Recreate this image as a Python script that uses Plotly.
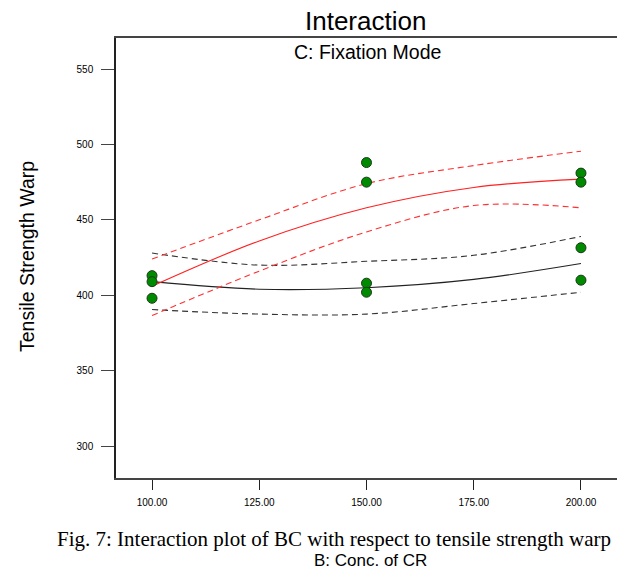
import plotly.graph_objects as go

# Data
b_levels = [100, 125, 150, 175, 200]
red_mean = [406.0, 436.0, 458.0, 471.5, 477.0]
red_upper = [424.0, 450.0, 474.0, 486.0, 495.5]
red_lower = [386.5, 416.0, 442.0, 459.5, 458.0]
black_mean = [409.0, 404.0, 405.0, 410.5, 421.0]
black_upper = [428.0, 420.0, 422.5, 426.5, 439.0]
black_lower = [390.5, 387.5, 387.5, 394.5, 402.0]

pts_b = [100, 100, 100, 150, 150, 150, 150, 200, 200, 200, 200]
pts_y = [413, 409, 398, 488, 475, 408, 402, 481, 475, 431.5, 410]

x_ticks = [100, 125, 150, 175, 200]
x_tick_labels = ["100.00", "125.00", "150.00", "175.00", "200.00"]
y_ticks = [300, 350, 400, 450, 500, 550]
y_tick_labels = ["300", "350", "400", "450", "500", "550"]

fig = go.Figure()

def add_line(y, color, dash, width=1.1):
    fig.add_trace(go.Scatter(x=b_levels, y=y, mode="lines",
                             line=dict(color=color, dash=dash, width=width, shape="spline"),
                             showlegend=False, hoverinfo="skip"))

add_line(black_upper, "#333333", "6px,4px")
add_line(black_lower, "#333333", "6px,4px")
add_line(black_mean, "#222222", "solid")
add_line(red_upper, "#ff3030", "6px,4px")
add_line(red_lower, "#ff3030", "6px,4px")
add_line(red_mean, "#ff2020", "solid")

fig.add_trace(go.Scatter(x=pts_b, y=pts_y, mode="markers",
                         marker=dict(color="#008a00", size=10,
                                     line=dict(color="#1a3a1a", width=1)),
                         showlegend=False))

fig.update_layout(
    width=617, height=569,
    margin=dict(l=116, r=0, t=38, b=91),
    paper_bgcolor="white", plot_bgcolor="white",
    font=dict(family="Liberation Sans, Arial, sans-serif", color="black"),
    xaxis=dict(range=[91.6, 208.4], tickvals=x_ticks, ticktext=x_tick_labels,
               ticks="outside", ticklen=10, tickcolor="#222", showgrid=False,
               zeroline=False, showline=True, linecolor="#444", linewidth=1.5,
               mirror=True, tickfont=dict(size=10), ticklabelstandoff=4),
    yaxis=dict(range=[278.8, 570.6], tickvals=y_ticks, ticktext=y_tick_labels,
               ticks="outside", ticklen=13, tickcolor="#444", showgrid=False,
               zeroline=False, showline=True, linecolor="#222", linewidth=1.5,
               tickfont=dict(size=10), ticklabelstandoff=6),
    annotations=[
        dict(text="Interaction", x=365, y=21, showarrow=False, font=dict(size=26)),
        dict(text="C: Fixation Mode", x=367, y=52, showarrow=False, font=dict(size=19.5)),
        dict(text="Tensile Strength Warp", x=27, y=257, showarrow=False,
             textangle=-90, font=dict(size=19.5)),
        dict(text="Fig. 7: Interaction plot of BC with respect to tensile strength warp",
             x=333.5, y=539, showarrow=False,
             font=dict(size=21, family="Liberation Serif, Times New Roman, serif")),
        dict(text="B: Conc. of CR", x=370, y=560, showarrow=False, font=dict(size=17)),
    ],
)

# convert pixel-positioned annotations to paper coordinates
W, H = 617, 569
l, r, t, b = 116, 0, 38, 91
pw, ph = W - l - r, H - t - b
new_ann = []
for a in fig.layout.annotations:
    px, py = a.x, a.y
    a.update(xref="paper", yref="paper",
             x=(px - l) / pw, y=1 - (py - t) / ph,
             xanchor="center", yanchor="middle")
    new_ann.append(a)
fig.layout.annotations = new_ann

fig.write_html("out.html")
